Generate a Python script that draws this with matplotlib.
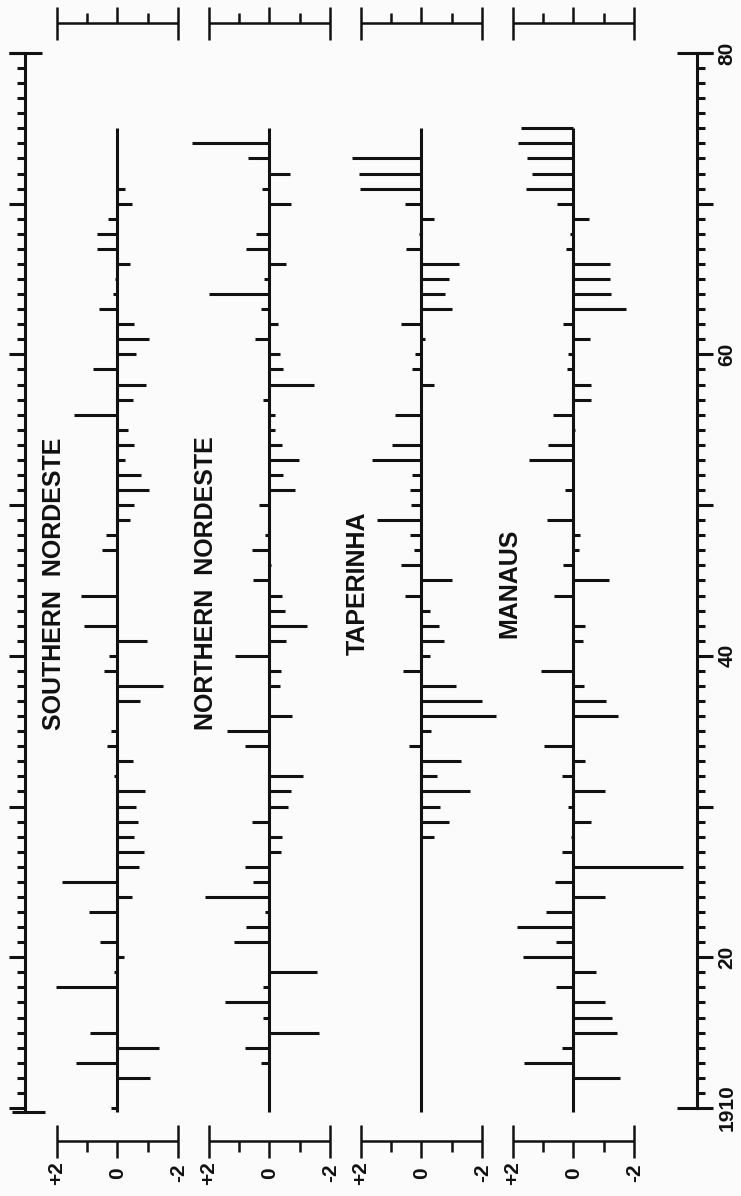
import matplotlib
matplotlib.use('Agg')
import matplotlib.pyplot as plt
import matplotlib.transforms as mtransforms

plt.rcParams['font.family'] = ['Liberation Sans', 'DejaVu Sans']
plt.rcParams['font.weight'] = 'bold'

# years on the time axis (runs bottom to top)
years = list(range(1910, 1976))

names = ['SOUTHERN  NORDESTE', 'NORTHERN  NORDESTE', 'TAPERINHA', 'MANAUS']

# anomalies, one value per year 1910-1975 (positive drawn to the left)
southern = [0.2, 0.0, -1.08, 1.36, -1.38, 0.89, 0.0, 0.0, 2.02, 0.1,
            -0.23, 0.58, 0.05, 0.94, -0.48, 1.83, -0.72, -0.88, -0.54, -0.68,
            -0.61, -0.9, 0.1, -0.5, 0.36, 0.21, 0.05, -0.73, -1.5, 0.44,
            0.27, -0.98, 1.1, 0.05, 1.21, 0.05, 0.05, 0.52, 0.38, -0.42,
            -0.53, -1.02, -0.76, -0.25, -0.53, -0.34, 1.44, -0.5, -0.93, 0.82,
            -0.61, -1.05, -0.53, 0.62, 0.15, 0.08, -0.4, 0.67, 0.69, 0.3,
            -0.48, -0.25, 0.0, 0.0, 0.0, 0.0]

northern = [0.0, 0.0, 0.0, 0.29, 0.81, -1.63, 0.2, 1.47, 0.2, -1.56,
            0.0, 1.18, 0.76, 0.14, 2.11, 0.53, 0.79, -0.38, -0.41, 0.56,
            -0.6, -0.71, -1.1, 0.05, 0.79, 1.39, -0.74, 0.05, -0.33, -0.39,
            1.14, -0.55, -1.24, -0.52, -0.4, 0.53, -0.05, 0.59, 0.15, 0.05,
            0.34, -0.83, -0.44, -0.97, -0.4, -0.19, -0.19, 0.2, -1.47, -0.43,
            -0.36, 0.48, -0.28, 0.29, 1.98, 0.17, -0.54, 0.76, 0.44, 0.05,
            -0.72, 0.26, -0.69, 0.7, 2.56, 0.0]

taperinha = [0.0, 0.0, 0.0, 0.0, 0.0, 0.0, 0.0, 0.0, 0.0, 0.0,
             0.0, 0.0, 0.0, 0.0, 0.0, 0.0, 0.0, 0.0, -0.42, -0.9,
             -0.6, -1.6, -0.52, -1.29, 0.41, -0.31, -2.46, -1.98, -1.12, 0.6,
             -0.29, -0.73, -0.56, -0.29, 0.54, -1.01, 0.67, 0.24, 0.38, 1.47,
             0.33, 0.38, 0.32, 1.63, 0.98, 0.05, 0.88, 0.05, -0.4, 0.3,
             0.22, -0.1, 0.67, -1.0, -0.78, -0.92, -1.22, 0.52, 0.08, -0.42,
             0.54, 2.03, 2.06, 2.3, 0.0, 0.0]

manaus = [0.0, 0.0, -1.53, 1.64, 0.39, -1.44, -1.28, -1.03, 0.56, -0.74,
          1.67, 0.58, 1.87, 0.89, -1.03, 0.61, -3.61, 0.37, 0.08, -0.56,
          0.17, -1.03, 0.39, -0.37, 0.97, 0.05, -1.48, -1.08, -0.33, 1.08,
          0.05, -0.31, -0.39, 0.05, 0.64, -1.17, 0.33, -0.17, -0.22, 0.86,
          0.05, 0.28, 0.0, 1.48, 0.83, -0.05, 0.69, -0.56, -0.56, 0.2,
          0.17, -0.53, 0.33, -1.72, -1.22, -1.2, -1.19, 0.24, 0.11, -0.52,
          0.53, 1.57, 1.38, 1.52, 1.84, 1.73]

decades = list(range(1910, 1981, 10))
decade_labels = ['1910', '20', '', '40', '', '60', '', '80']
scale_ticks = [2, 1, 0, -1, -2]
scale_labels = ['+2', '0', '-2']

series = [southern, northern, taperinha, manaus]

ink = '#111111'
lw = 2.2
bg = '#fbfbfb'

fig = plt.figure(figsize=(7.41, 11.96), dpi=100, facecolor=bg)
ax = fig.add_axes([0, 0.0736, 1, 0.8821])
ax.set_facecolor('none')
# x is in anomaly units, reversed so that + goes left; panels are 5 units apart
ax.set_xlim(3.865, -20.51)
ax.set_ylim(1910, 1980)

# x in data units, y in figure fraction (for the little scale bars)
trans = mtransforms.blended_transform_factory(ax.transData, fig.transFigure)

for i, (name, vals) in enumerate(zip(names, series)):
    off = -5 * i
    # baseline
    ax.vlines(off, 1909.75, years[-1], color=ink, lw=lw, clip_on=False)
    # bars
    ends = [off + v for v in vals]
    ax.hlines(years, off, ends, color=ink, lw=lw, clip_on=False)
    # panel name
    ax.text(off + 2.1, 1944.8, name, rotation=90, ha='center', va='center',
            fontsize=18, color=ink)

    # scale bar on top
    ax.plot([off + 2, off - 2], [0.9805, 0.9805], color=ink, lw=1.8,
            transform=trans, clip_on=False, solid_capstyle='butt')
    for t in scale_ticks:
        if abs(t) == 2:
            y0, y1 = 0.9666, 0.9944
        elif t == 0:
            y0, y1 = 0.9805, 0.9944
        else:
            y0, y1 = 0.9805, 0.9889
        ax.plot([off + t, off + t], [y0, y1], color=ink, lw=1.8,
                transform=trans, clip_on=False, solid_capstyle='butt')

    # scale bar at the bottom, with labels
    ax.plot([off + 2, off - 2], [0.046, 0.046], color=ink, lw=1.8,
            transform=trans, clip_on=False, solid_capstyle='butt')
    for t in scale_ticks:
        if abs(t) == 2:
            y0, y1 = 0.0318, 0.0594
        elif t == 0:
            y0, y1 = 0.0318, 0.046
        else:
            y0, y1 = 0.0368, 0.046
        ax.plot([off + t, off + t], [y0, y1], color=ink, lw=1.8,
                transform=trans, clip_on=False, solid_capstyle='butt')
    for t, lab in zip([2, 0, -2], scale_labels):
        ax.text(off + t, 0.0192, lab, rotation=90, ha='center', va='center',
                fontsize=15, color=ink, transform=trans)

# time axes: left one with ticks only, right one with year labels
for s in ['top', 'bottom']:
    ax.spines[s].set_visible(False)
ax.spines['left'].set_position(('data', 3.043))
ax.spines['left'].set_bounds(1909.7, 1980)
ax.spines['right'].set_position(('data', -19.05))
ax.spines['right'].set_bounds(1910, 1980)
for s in ['left', 'right']:
    ax.spines[s].set_linewidth(lw)
    ax.spines[s].set_color(ink)

ax.set_xticks([])
ax.set_yticks(decades, labels=decade_labels)
ax.set_yticks(list(range(1910, 1981)), minor=True)
ax.tick_params(axis='y', which='both', left=True, right=True, labelleft=False,
               labelright=True, direction='out', width=lw, color=ink)
ax.tick_params(axis='y', which='major', length=11.5, labelsize=15,
               labelrotation=90, pad=3.5, labelcolor=ink)
ax.tick_params(axis='y', which='minor', length=5.8)
for lab in ax.get_yticklabels():
    lab.set_va('center')

# end caps of the time axes
ax.plot([3.559, 2.493], [1980, 1980], color=ink, lw=lw, clip_on=False, solid_capstyle='butt')
ax.plot([3.48, 2.385], [1909.7, 1909.7], color=ink, lw=lw, clip_on=False, solid_capstyle='butt')
ax.plot([-18.42, -19.6], [1980, 1980], color=ink, lw=lw, clip_on=False, solid_capstyle='butt')
ax.plot([-18.42, -19.1], [1910, 1910], color=ink, lw=lw, clip_on=False, solid_capstyle='butt')

fig.savefig('out.png', dpi=100, facecolor=bg)
